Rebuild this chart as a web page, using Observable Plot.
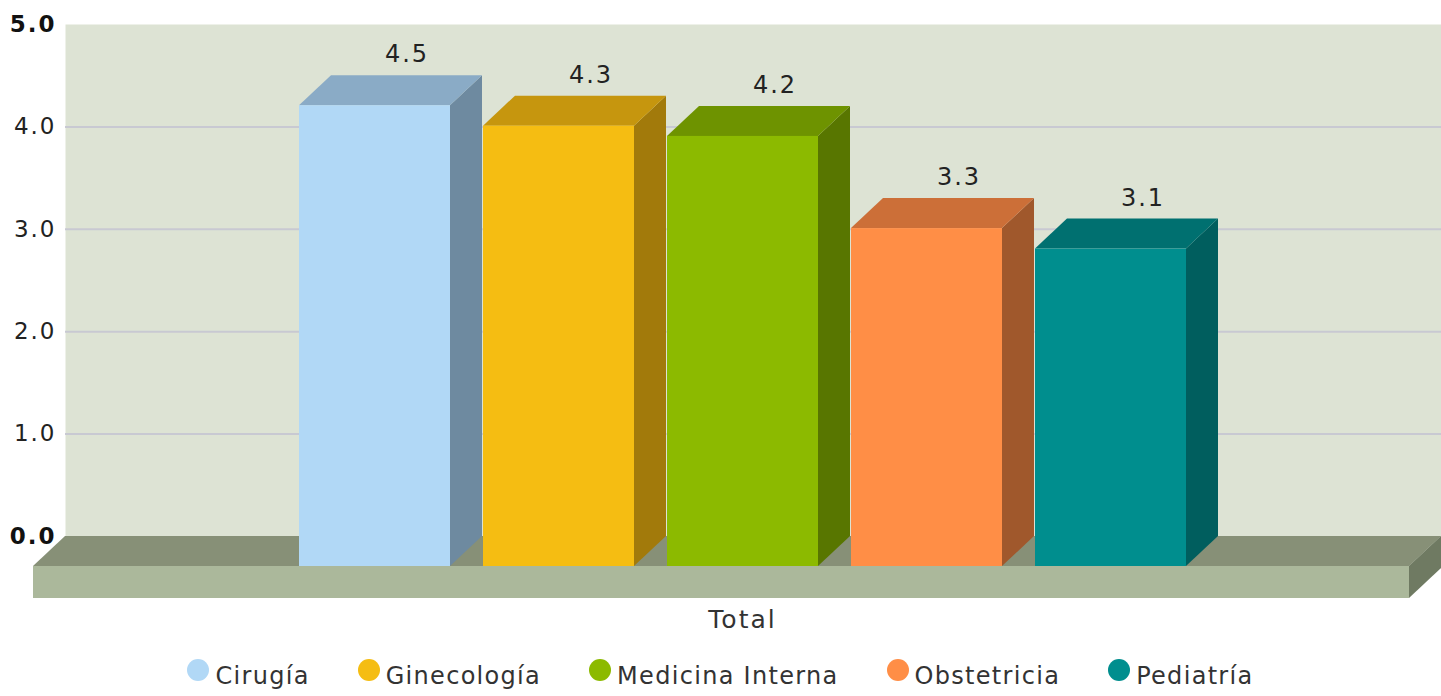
<!DOCTYPE html>
<html><head><meta charset="utf-8">
<script src="https://cdn.jsdelivr.net/npm/d3@7"></script>
<script src="https://cdn.jsdelivr.net/npm/@observablehq/plot@0.6"></script>
<style>
body{margin:0;background:#fff;overflow:hidden;font-family:"DejaVu Sans",sans-serif;}
#chart{position:absolute;top:0;left:0}
#chart svg text{letter-spacing:2px}
#legend{position:absolute;top:660px;left:0;width:1441px;display:flex;justify-content:center;gap:48px;font-size:24px;line-height:32px;color:#333;letter-spacing:1.3px}
.item{display:flex;align-items:center}
.sw{width:22px;height:22px;border-radius:50%;margin-right:6px;position:relative;top:-6px}
</style></head><body>
<div id="chart"></div><div id="legend"></div>
<script>
const categories = ["Total"];
const series = ["Cirugía", "Ginecología", "Medicina Interna", "Obstetricia", "Pediatría"];
const values = [4.5, 4.3, 4.2, 3.3, 3.1];
const yTicksBold = [0, 5];
const yTicksNormal = [1, 2, 3, 4];
const frontColors = ["#b1d8f6", "#f5bd12", "#8cba00", "#ff8e46", "#008e8e"];
const topColors = ["#8aabc6", "#c6960e", "#6e9300", "#cc6f38", "#007070"];
const sideColors = ["#6e8aa0", "#a27a0b", "#587600", "#a0582c", "#005e5e"];

const data = series.map((s, i) => ({category: categories[0], series: s, value: values[i], i}));

const DX = 32, DY = 30; // depth offset in pixels
const NS = "http://www.w3.org/2000/svg";
function poly(g, pts, fill) {
  const p = document.createElementNS(NS, "polygon");
  p.setAttribute("points", pts.map(d => d.join(",")).join(" "));
  p.setAttribute("fill", fill);
  g.appendChild(p);
}
// floor top (behind bars)
function floorTop(index, scales) {
  const {x, y} = scales;
  const [r0, r1] = x.range();
  const g = document.createElementNS(NS, "g");
  const y0 = y(0);
  poly(g, [[r0, y0], [r1, y0], [r1 + DX, y0 - DY], [r0 + DX, y0 - DY]], "#879077");
  return g;
}
// bar top and side faces
function barFaces(index, scales) {
  const {x, y} = scales;
  const bw = x.bandwidth();
  const g = document.createElementNS(NS, "g");
  data.forEach(d => {
    const x0 = x(d.series), x1 = x0 + bw, yt = y(d.value), yb = y(0);
    poly(g, [[x1, yb], [x1, yt], [x1 + DX, yt - DY], [x1 + DX, yb - DY]], sideColors[d.i]);
    poly(g, [[x0, yt], [x1, yt], [x1 + DX, yt - DY], [x0 + DX, yt - DY]], topColors[d.i]);
  });
  return g;
}
// floor front and right side
function floorFront(index, scales) {
  const {x, y} = scales;
  const [r0, r1] = x.range();
  const yb = y.range()[0];
  const g = document.createElementNS(NS, "g");
  const y0 = y(0);
  poly(g, [[r0, y0], [r1, y0], [r1, yb], [r0, yb]], "#abb89b");
  poly(g, [[r1, y0], [r1 + DX, y0 - DY], [r1 + DX, yb - DY], [r1, yb]], "#6f7a62");
  return g;
}

const chart = Plot.plot({
  width: 1441,
  height: 640,
  marginLeft: 33,
  marginRight: 32,
  marginTop: 54,
  marginBottom: 42,
  style: {background: "transparent", fontFamily: "DejaVu Sans", color: "#222"},
  x: {type: "band", domain: series, paddingInner: 0.177, paddingOuter: 1.3125, align: 0.545, axis: null},
  y: {domain: [-0.3125, 5], axis: null},
  color: {domain: series, range: frontColors},
  marks: [
    Plot.frame({fill: "#dde3d4", stroke: null, dx: DX, dy: -DY}),
    Plot.ruleY(yTicksNormal, {stroke: "#c8c9d2", strokeWidth: 2, dx: DX, dy: -DY}),
    floorTop,
    barFaces,
    Plot.barY(data, {x: "series", y: "value", fill: "series"}),
    floorFront,
    Plot.text(data, {x: "series", y: "value", text: d => d.value.toFixed(1), dx: DX, dy: -DY - 21, fontSize: 24, fill: "#222"}),
    Plot.text(yTicksNormal, {y: d => d, text: d => d.toFixed(1), frameAnchor: "left", textAnchor: "end", dx: 23, dy: -DY, fontSize: 23, fill: "#222"}),
    Plot.text(yTicksBold, {y: d => d, text: d => d.toFixed(1), frameAnchor: "left", textAnchor: "end", dx: 23, dy: -DY, fontSize: 23, fontWeight: "bold", fill: "#111"}),
    Plot.text(categories, {text: d => d, frameAnchor: "bottom", dx: 21, dy: 29, fontSize: 25, fill: "#333"})
  ]
});
document.getElementById("chart").appendChild(chart);

const legend = document.getElementById("legend");
series.forEach((s, i) => {
  const it = document.createElement("div");
  it.className = "item";
  const sw = document.createElement("span");
  sw.className = "sw";
  sw.style.background = frontColors[i];
  const t = document.createElement("span");
  t.textContent = s;
  it.appendChild(sw); it.appendChild(t);
  legend.appendChild(it);
});
</script>
</body></html>
